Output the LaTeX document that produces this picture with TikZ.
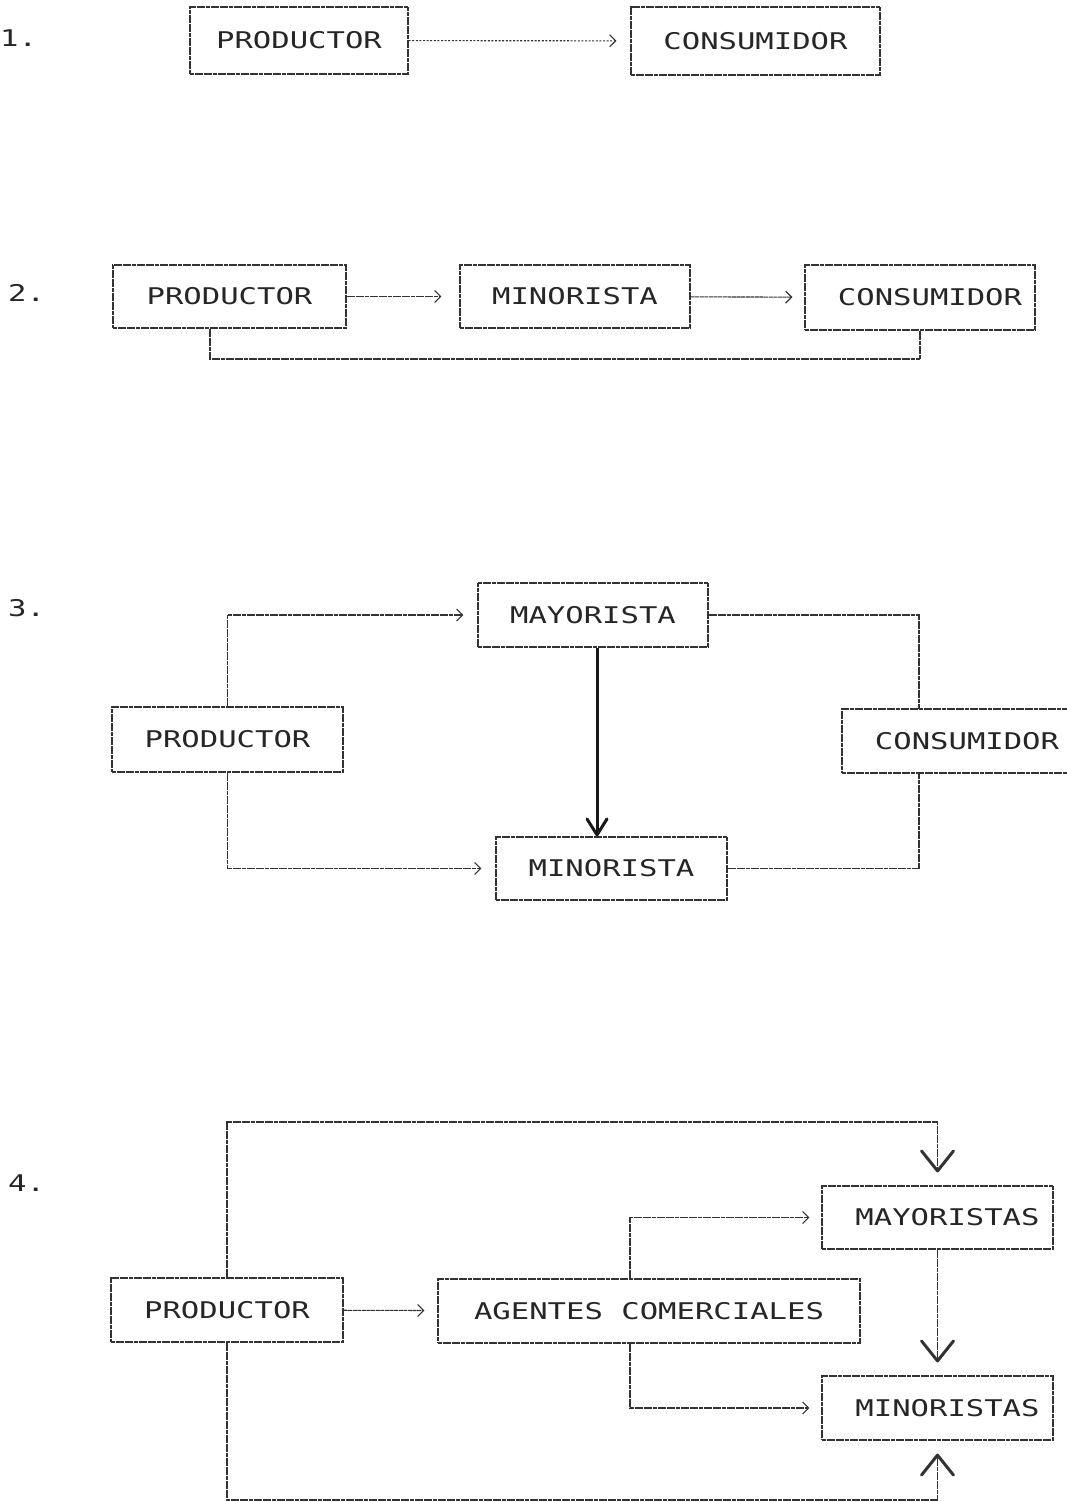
\documentclass[tikz,border=0pt]{standalone}
\usepackage{fontspec}
\newfontfamily\plotfont[FakeStretch=1.33]{DejaVu Sans Mono}
\usetikzlibrary{arrows.meta}

\begin{document}
\begin{tikzpicture}[x=1pt,y=-1pt,
  boxline/.style={draw=black!80, line width=1.2pt, dash pattern=on 4pt off 0.6pt},
  chan/.style={boxline, inner sep=0pt, font=\plotfont\fontsize{23}{23}\selectfont, text=black!85},
  link/.style={draw=black!80, line width=1.1pt, dash pattern=on 4pt off 0.6pt},
  barb/.style={-{Straight Barb[length=6pt,width=12pt]}, shorten >=14pt},
  bigv/.style={-{Straight Barb[length=20pt,width=32pt,line width'=3pt,round]}, shorten >=13pt},
  num/.style={font=\plotfont\fontsize{23}{23}\selectfont, text=black!85, anchor=west, inner sep=0pt}
]
\useasboundingbox (0,0) rectangle (1067,1502);
\fill[white] (0,0) rectangle (1067,1502);
\clip (0,0) rectangle (1067,1502);

% ---- 1. direct channel
\node[num] (n1) at (0,38) {1.};
\node[chan, minimum width=218pt, minimum height=67pt] (p1) at (299,40.5) {PRODUCTOR};
\node[chan, minimum width=249pt, minimum height=68pt] (c1) at (755.5,41) {CONSUMIDOR};
\draw[link, dash pattern=on 2pt off 1.6pt, barb] (p1) -- (c1);

% ---- 2. producer - retailer - consumer
\node[num] (n2) at (8,293) {2.};
\node[chan, minimum width=233pt, minimum height=63pt] (p2) at (229.5,296.5) {PRODUCTOR};
\node[chan, minimum width=230pt, minimum height=63pt] (m2) at (575,296.5) {MINORISTA};
\node[chan, minimum width=230pt, minimum height=65pt] (c2) at (920,297.5) {\kern20pt CONSUMIDOR};
\draw[link, barb, shorten >=18pt] (p2) -- (m2);
\draw[link, barb, shorten >=12pt] (m2) -- (c2);
\coordinate (b2) at (210,359);
\draw[link] (p2.south -| b2) -- (b2) -| (c2.south);

% ---- 3. wholesaler and retailer
\node[num] (n3) at (8,608) {3.};
\node[chan, minimum width=230pt, minimum height=64pt] (may3) at (593,615) {MAYORISTA};
\node[chan, minimum width=231pt, minimum height=65pt] (p3) at (227.5,739.5) {PRODUCTOR};
\node[chan, minimum width=231pt, minimum height=63pt] (min3) at (611.5,868.5) {MINORISTA};
\node[chan, minimum width=250pt, minimum height=64pt] (con3) at (967,741) {CONSUMIDOR};
\draw[link, barb] (p3.north) |- (may3.west);
\draw[link, barb] (p3.south) |- (min3.west);
\coordinate (k3) at (919,0);
\draw[link] (may3.east) -| (con3.north -| k3);
\draw[link] (min3.east) -| (con3.south -| k3);
\coordinate (v3) at (597,0);
\draw[line width=3pt, black!90, -{Straight Barb[length=16pt,width=20pt,round]}]
  (may3.south -| v3) -- (min3.north -| v3);

% ---- 4. agents, wholesalers and retailers
\node[num] (n4) at (8,1183) {4.};
\node[chan, minimum width=232pt, minimum height=64pt] (p4) at (227,1310) {PRODUCTOR};
\node[chan, minimum width=422pt, minimum height=64pt] (ag4) at (649,1311) {AGENTES COMERCIALES};
\node[chan, minimum width=231pt, minimum height=63pt] (may4) at (937.5,1217.5) {\kern20pt MAYORISTAS};
\node[chan, minimum width=231pt, minimum height=64pt] (min4) at (937.5,1408) {\kern20pt MINORISTAS};
\draw[link, barb, shorten >=13pt] (p4) -- (ag4);
\coordinate (t4) at (227,1122);
\draw[link, bigv] (p4.north) -- (t4) -| (may4.north);
\draw[link, bigv] (may4) -- (min4);
\coordinate (u4) at (227,1500);
\draw[link, bigv] (p4.south) -- (u4) -| (min4.south);
\coordinate (a4) at (630,0);
\draw[link, barb, shorten >=12pt] (ag4.north -| a4) |- (may4.west);
\draw[link, barb, shorten >=12pt] (ag4.south -| a4) |- (min4.west);
\end{tikzpicture}
\end{document}
